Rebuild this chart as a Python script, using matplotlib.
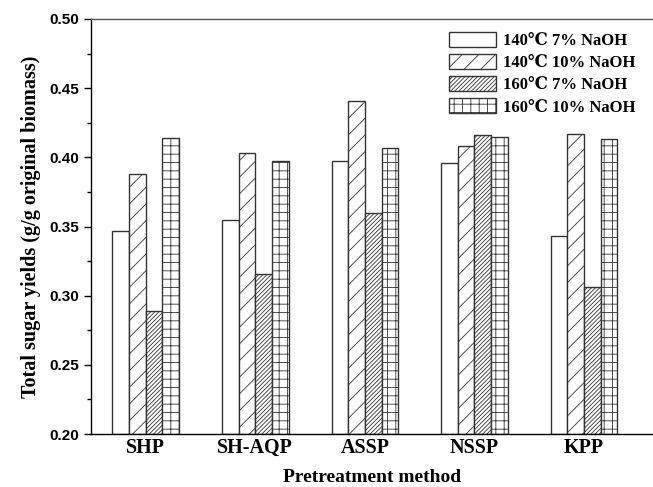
import matplotlib
matplotlib.use("Agg")
import matplotlib.pyplot as plt
import numpy as np

# DATA
methods = ['SHP', 'SH-AQP', 'ASSP', 'NSSP', 'KPP']
series_labels = ['140\u2103 7% NaOH', '140\u2103 10% NaOH',
                 '160\u2103 7% NaOH', '160\u2103 10% NaOH']
y_140_7 = [0.347, 0.355, 0.397, 0.396, 0.343]
y_140_10 = [0.388, 0.403, 0.441, 0.408, 0.417]
y_160_7 = [0.289, 0.316, 0.360, 0.416, 0.306]
y_160_10 = [0.414, 0.397, 0.407, 0.415, 0.413]

serif = ['Liberation Serif', 'DejaVu Serif']
plt.rcParams['hatch.color'] = '#777777'
plt.rcParams['hatch.linewidth'] = 0.6

fig = plt.figure(figsize=(6.53, 4.87), dpi=100)
ax = fig.add_axes([0.1394, 0.1088, 0.8606, 0.8522])

x = np.arange(1, len(methods) + 1)
w = 0.152
all_series = [y_140_7, y_140_10, y_160_7, y_160_10]
hatches = ['', '//', '////////', '++']
for i, (vals, lab, h) in enumerate(zip(all_series, series_labels, hatches)):
    ax.bar(x + (i - 1.5) * w, np.array(vals) - 0.20, w, bottom=0.20,
           facecolor='white', edgecolor='#333333', linewidth=1.0,
           hatch=h, label=lab)

ax.set_ylim(0.20, 0.50)
ax.set_xlim(0.5, 5.63)
ax.set_yticks(np.arange(0.20, 0.501, 0.05))
ax.set_yticks(np.arange(0.225, 0.50, 0.05), minor=True)
ax.set_yticklabels(['%.2f' % v for v in np.arange(0.20, 0.501, 0.05)],
                   fontsize=11, fontweight='bold', family='Liberation Sans')
ax.tick_params(axis='y', which='major', direction='out', length=5, width=1)
ax.tick_params(axis='y', which='minor', direction='out', length=3, width=1)
ax.set_xticks(x)
ax.set_xticklabels(methods, fontsize=14.5, fontweight='bold', family=serif)
ax.tick_params(axis='x', length=0, pad=3)

ax.spines['right'].set_visible(False)
for s in ['left', 'bottom', 'top']:
    ax.spines[s].set_linewidth(1.0)
ax.spines['top'].set_color('#555555')

ax.set_xlabel('Pretreatment method', fontsize=14, fontweight='bold',
              family=serif, labelpad=8)
ax.set_ylabel('Total sugar yields (g/g original biomass)', fontsize=14.5,
              fontweight='bold', family=serif, labelpad=6)

leg = ax.legend(loc='upper right', bbox_to_anchor=(0.995, 1.005), frameon=False,
                prop={'family': serif, 'weight': 'bold', 'size': 12},
                handlelength=2.8, handleheight=1.0, handletextpad=0.4,
                labelspacing=0.3)

fig.savefig('out.png', dpi=100)
